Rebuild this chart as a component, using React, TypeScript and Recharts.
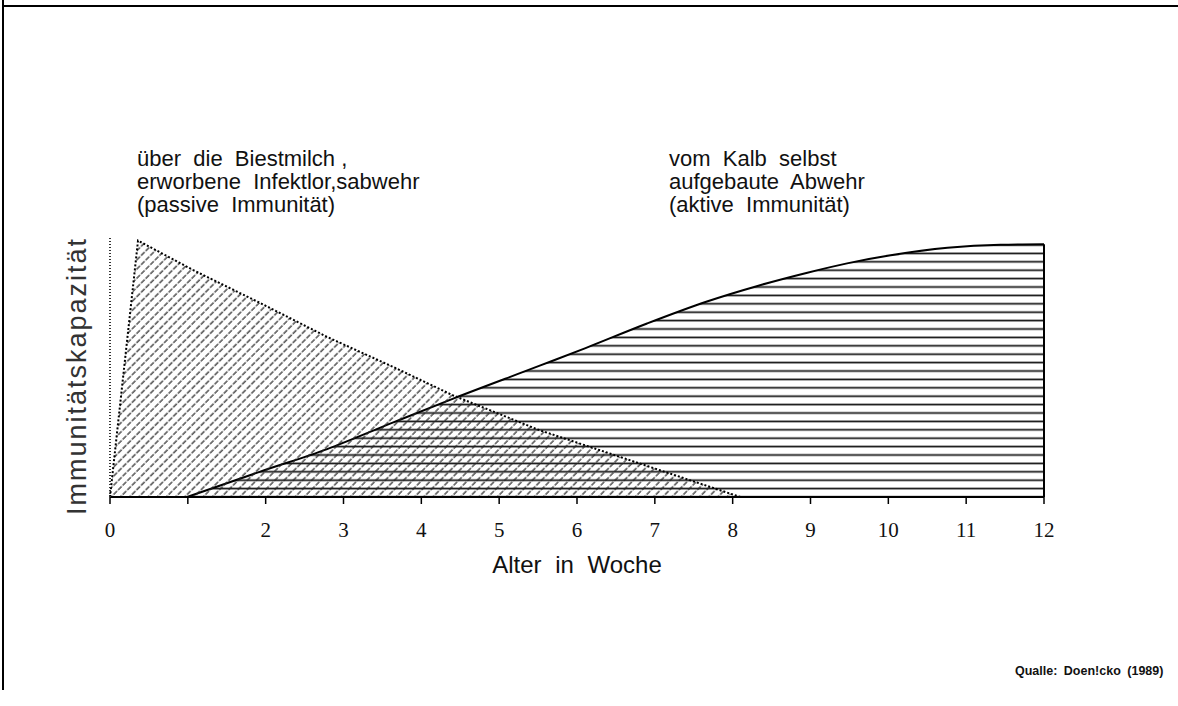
import React from 'react';
import { ComposedChart, Area, XAxis, YAxis, ReferenceLine } from 'recharts';

// weeks / relative immunity (0-100)
const passiveWeeks = [0, 0.36, 1.07, 1.93, 2.79, 3.64, 4.41, 5.51, 6.79, 8.1];
const passiveValues = [0, 99, 87.6, 74.9, 61.8, 50.2, 39.2, 25.9, 13.1, 0];
const activeWeeks = [0.99, 1.93, 2.79, 3.64, 4.41, 5.53, 6.11, 6.9, 7.67, 8.32, 8.96, 9.47, 10.03, 10.76, 11.44, 12];
const activeValues = [0, 9.8, 18.5, 28.8, 38.0, 50.8, 57.5, 67.0, 75.5, 81.5, 86.6, 90.2, 93.3, 96.2, 97.4, 97.6];

const weekTicks = [0, 1, 2, 3, 4, 5, 6, 7, 8, 9, 10, 11, 12];
const weekLabels = ['0', '', '2', '3', '4', '5', '6', '7', '8', '9', '10', '11', '12'];

const passiveText = ['über  die  Biestmilch ,', 'erworbene  Infektlor,sabwehr', '(passive  Immunität)'];
const activeText = ['vom  Kalb  selbst', 'aufgebaute  Abwehr', '(aktive  Immunität)'];

function buildRows() {
    const weeks = Array.from(new Set([...passiveWeeks, ...activeWeeks])).sort((a, b) => a - b);
    return weeks.map((w) => {
        const pi = passiveWeeks.indexOf(w);
        const ai = activeWeeks.indexOf(w);
        return {
            week: w,
            passive: pi >= 0 ? passiveValues[pi] : null,
            active: ai >= 0 ? activeValues[ai] : null,
        };
    });
}

const rows = buildRows();

function WeekTick({ x, y, payload }: any) {
    const i = weekTicks.indexOf(payload.value);
    return (
        <text
            x={x}
            y={y + 31}
            textAnchor="middle"
            fontSize={21}
            fontFamily="'Liberation Serif', serif"
            fill="#111"
        >
            {weekLabels[i]}
        </text>
    );
}

const textStyle: React.CSSProperties = {
    position: 'absolute',
    fontFamily: "'Liberation Sans', Arial, sans-serif",
    fontSize: 22,
    lineHeight: '23px',
    color: '#111',
    whiteSpace: 'pre',
};

export default function App() {
    return (
        <div
            style={{
                position: 'fixed',
                left: 0,
                top: 0,
                width: 1178,
                height: 706,
                background: '#fff',
                overflow: 'hidden',
            }}
        >
            <div style={{ position: 'absolute', left: 3, top: 5, width: 1175, height: 2, background: '#000' }} />
            <div style={{ position: 'absolute', left: 2, top: 0, width: 1.5, height: 690, background: '#000' }} />

            <ComposedChart
                width={1178}
                height={706}
                data={rows}
                margin={{ top: 238, right: 134, bottom: 129, left: 60 }}
                style={{ position: 'absolute', left: 0, top: 0 }}
            >
                <defs>
                    <pattern
                        id="hatchDiag"
                        width={6.5}
                        height={6.5}
                        patternUnits="userSpaceOnUse"
                        patternTransform="rotate(45)"
                    >
                        <line x1={1} y1={0} x2={1} y2={6.5} stroke="#222" strokeWidth={1.2} strokeDasharray="3 1.5" />
                    </pattern>
                    <pattern id="hatchHoriz" width={12} height={8.4} patternUnits="userSpaceOnUse">
                        <line x1={0} y1={1.4} x2={12} y2={1.4} stroke="#111" strokeWidth={1.7} />
                    </pattern>
                </defs>
                <XAxis
                    type="number"
                    dataKey="week"
                    domain={[0, 12]}
                    ticks={weekTicks}
                    interval={0}
                    height={80}
                    axisLine={{ stroke: '#000', strokeWidth: 2 }}
                    tickLine={{ stroke: '#000', strokeWidth: 1.5 }}
                    tickSize={7}
                    tick={<WeekTick />}
                    label={{
                        value: 'Alter in Woche',
                        position: 'insideBottom',
                        offset: 4,
                        fontSize: 24,
                        fontFamily: "'Liberation Sans', Arial, sans-serif",
                        fill: '#111',
                        style: { wordSpacing: 7 },
                    }}
                />
                <YAxis
                    type="number"
                    domain={[0, 100]}
                    width={50}
                    tick={false}
                    tickLine={false}
                    axisLine={{ stroke: '#333', strokeWidth: 2, strokeDasharray: '1 2' }}
                />
                <Area
                    type="monotone"
                    dataKey="active"
                    connectNulls
                    stroke="#000"
                    strokeWidth={2}
                    fill="url(#hatchHoriz)"
                    fillOpacity={1}
                    isAnimationActive={false}
                    dot={false}
                    activeDot={false}
                />
                <Area
                    type="linear"
                    dataKey="passive"
                    connectNulls
                    stroke="#000"
                    strokeWidth={2}
                    strokeDasharray="2 2"
                    fill="url(#hatchDiag)"
                    fillOpacity={1}
                    isAnimationActive={false}
                    dot={false}
                    activeDot={false}
                />
                <ReferenceLine
                    segment={[
                        { x: 12, y: 0 },
                        { x: 12, y: activeValues[activeValues.length - 1] },
                    ]}
                    stroke="#000"
                    strokeWidth={2}
                />
            </ComposedChart>

            <div
                style={{
                    position: 'absolute',
                    left: 77,
                    top: 376,
                    transform: 'translate(-50%, -50%) rotate(-90deg)',
                    fontFamily: "'Liberation Sans', Arial, sans-serif",
                    fontSize: 27,
                    letterSpacing: 2,
                    color: '#333',
                    whiteSpace: 'nowrap',
                    lineHeight: '27px',
                }}
            >
                Immunitätskapazität
            </div>
            <div style={{ ...textStyle, left: 137, top: 147 }}>{passiveText.join('\n')}</div>
            <div style={{ ...textStyle, left: 669, top: 147 }}>{activeText.join('\n')}</div>
            <div
                style={{
                    position: 'absolute',
                    left: 1015,
                    top: 664,
                    fontFamily: "'Liberation Sans', Arial, sans-serif",
                    fontSize: 12.5,
                    fontWeight: 'bold',
                    wordSpacing: 3,
                    color: '#111',
                    whiteSpace: 'pre',
                }}
            >
                Qualle: Doen!cko (1989)
            </div>
        </div>
    );
}
